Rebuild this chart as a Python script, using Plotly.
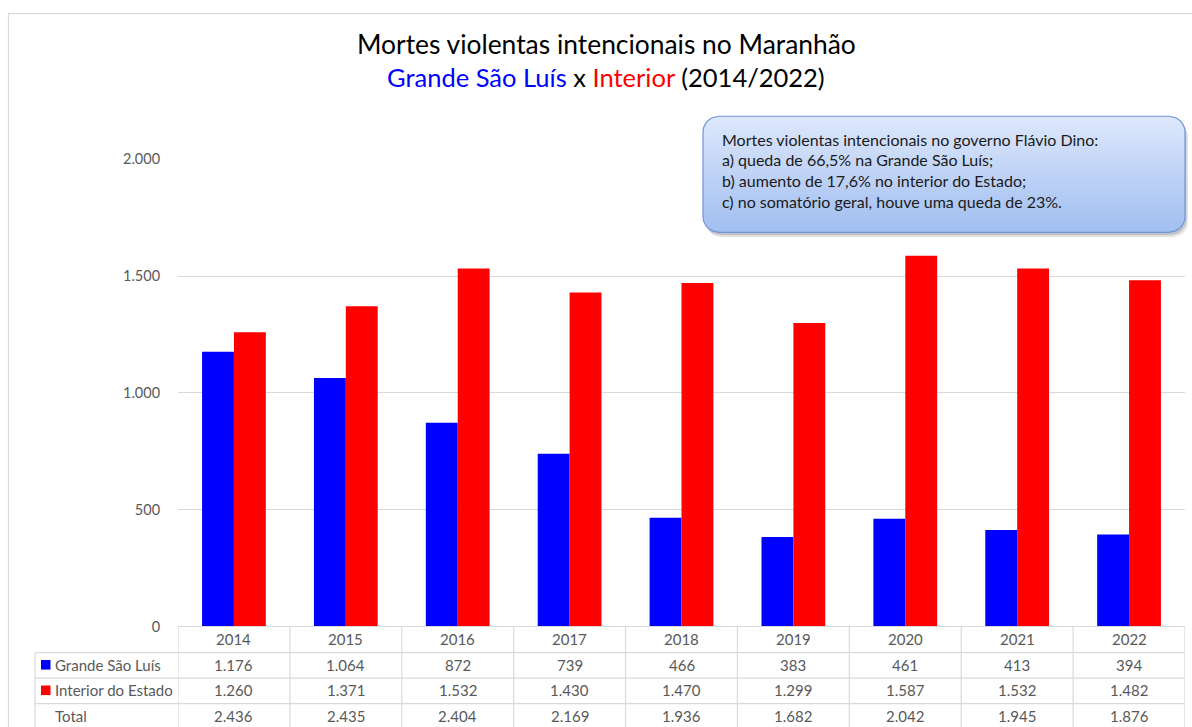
import numpy as np
import plotly.graph_objects as go

# ---------------- data ----------------
years = ["2014", "2015", "2016", "2017", "2018", "2019", "2020", "2021", "2022"]
grande_sao_luis = [1176, 1064, 872, 739, 466, 383, 461, 413, 394]
interior_estado = [1260, 1371, 1532, 1430, 1470, 1299, 1587, 1532, 1482]
total = [2436, 2435, 2404, 2169, 1936, 1682, 2042, 1945, 1876]
row_labels = ["Grande São Luís", "Interior do Estado", "Total"]
y_ticks = [0, 500, 1000, 1500, 2000]

title_line1 = "Mortes violentas intencionais no Maranhão"
title_line2 = ("<span style='color:#0000ff'>Grande São Luís</span> x "
               "<span style='color:#ff0000'>Interior</span> (2014/2022)")
note_lines = [
    "Mortes violentas intencionais no governo Flávio Dino:",
    "a) queda de 66,5% na Grande São Luís;",
    "b) aumento de 17,6% no interior do Estado;",
    "c) no somatório geral, houve uma queda de 23%.",
]

# ---------------- layout helpers ----------------
W, H = 1192, 736
FONT = "Lato"
GRID = "#d9d9d9"
TXT = "#595959"
BLUE = "#0000ff"
RED = "#ff0000"

# measured mapping of the capture: shown_y = V_OFF + V_SCALE * figure_y
V_OFF, V_SCALE = 8.8, 0.9764


def px(x):
    """target pixel x -> paper coordinate"""
    return x / W


def py(y):
    """target pixel y -> paper coordinate"""
    return 1 - ((y - V_OFF) / V_SCALE) / H


PLOT_L, PLOT_R, PLOT_T, PLOT_B = 178, 1185, 159, 626
ROW_H = 25.5


def fmt(v):
    return f"{v:,}".replace(",", ".")


fig = go.Figure()
fig.add_bar(x=years, y=grande_sao_luis, name=row_labels[0],
            marker=dict(color=BLUE, line=dict(width=0)))
fig.add_bar(x=years, y=interior_estado, name=row_labels[1],
            marker=dict(color=RED, line=dict(width=0)))

shapes = []
annotations = []

# outer chart border
shapes.append(dict(type="rect", xref="paper", yref="paper",
                   x0=px(8.5), x1=px(1250), y0=py(13.5), y1=-0.2,
                   line=dict(color=GRID, width=1.2), fillcolor="rgba(0,0,0,0)",
                   layer="below"))

# ---------------- data table below the plot ----------------
n = len(years)
shapes.append(dict(type="line", xref="x", yref="paper", x0=-0.5, x1=n - 0.5,
                   y0=py(PLOT_B), y1=py(PLOT_B), line=dict(color=GRID, width=1.2)))
for k in range(1, 4):
    yy = PLOT_B + k * ROW_H + 0.5
    shapes.append(dict(type="line", xref="paper", yref="paper",
                       x0=px(35), x1=px(PLOT_R), y0=py(yy), y1=py(yy),
                       line=dict(color=GRID, width=1.2)))
for k in range(n + 1):
    shapes.append(dict(type="line", xref="x", yref="paper", x0=k - 0.5, x1=k - 0.5,
                       y0=py(PLOT_B), y1=-0.1, line=dict(color=GRID, width=1.2)))
shapes.append(dict(type="line", xref="paper", yref="paper", x0=px(35), x1=px(35),
                   y0=py(PLOT_B + ROW_H + 0.5), y1=-0.1,
                   line=dict(color=GRID, width=1.2)))

row_center = [PLOT_B + ROW_H * (i + 0.5) for i in range(4)]
for i, yr in enumerate(years):
    annotations.append(dict(x=i, y=py(row_center[0]), xref="x", yref="paper",
                            yanchor="middle", xanchor="center",
                            text=yr, showarrow=False,
                            font=dict(family=FONT, size=15, color=TXT)))
    for r, series in enumerate([grande_sao_luis, interior_estado, total]):
        annotations.append(dict(x=i, y=py(row_center[r + 1]), xref="x", yref="paper",
                                yanchor="middle", xanchor="center",
                                text=fmt(series[i]), showarrow=False,
                                font=dict(family=FONT, size=15, color=TXT)))

for r, lab in enumerate(row_labels):
    yc = row_center[r + 1]
    annotations.append(dict(x=px(53), y=py(yc), xref="paper", yref="paper",
                            xanchor="left", yanchor="middle", text=lab, showarrow=False,
                            font=dict(family=FONT, size=15, color=TXT)))
    if r < 2:
        shapes.append(dict(type="rect", xref="paper", yref="paper",
                           x0=px(41), x1=px(50.5), y0=py(yc - 4.8), y1=py(yc + 4.8),
                           fillcolor=[BLUE, RED][r], line=dict(width=0)))

# ---------------- title ----------------
annotations.append(dict(x=px(606), y=py(44), xref="paper", yref="paper",
                        xanchor="center", yanchor="middle",
                        text=title_line1, showarrow=False,
                        font=dict(family=FONT, size=26.4, color="#000000")))
annotations.append(dict(x=px(606), y=py(77), xref="paper", yref="paper",
                        xanchor="center", yanchor="middle",
                        text=title_line2, showarrow=False,
                        font=dict(family=FONT, size=25.5, color="#000000")))

# ---------------- callout box with vertical gradient ----------------
BX0, BX1, BY0, BY1, RAD = 703, 1185, 116, 232, 16


def edge_x(y):
    """horizontal inset of the rounded rectangle at pixel height y"""
    if y < BY0 + RAD:
        d = BY0 + RAD - y
    elif y > BY1 - RAD:
        d = y - (BY1 - RAD)
    else:
        return 0.0
    d = min(d, RAD)
    return RAD - np.sqrt(max(RAD * RAD - d * d, 0.0))


def band_path(ya, yb, dx=0, dy=0, npts=8):
    ys = np.linspace(ya, yb, npts)
    left = [(BX0 + edge_x(y) + dx, y + dy) for y in ys]
    right = [(BX1 - edge_x(y) + dx, y + dy) for y in ys[::-1]]
    pts = left + right
    return "M " + " L ".join(f"{px(a):.6f},{py(b):.6f}" for a, b in pts) + " Z"


def rr_path(dx=0, dy=0):
    return band_path(BY0, BY1, dx, dy, npts=80)


# shadow
shapes.append(dict(type="path", xref="paper", yref="paper", path=rr_path(3, 5),
                   fillcolor="rgba(0,0,0,0.10)", line=dict(width=0)))
shapes.append(dict(type="path", xref="paper", yref="paper", path=rr_path(1.5, 3),
                   fillcolor="rgba(0,0,0,0.15)", line=dict(width=0)))

top_c = np.array([222, 232, 252])
bot_c = np.array([160, 190, 240])
NB = 40
edges = np.linspace(BY0, BY1, NB + 1)
for b in range(NB):
    t = (b + 0.5) / NB
    c = (top_c * (1 - t) + bot_c * t).round().astype(int)
    yb = min(edges[b + 1] + 0.7, BY1)
    shapes.append(dict(type="path", xref="paper", yref="paper",
                       path=band_path(edges[b], yb),
                       fillcolor=f"rgb({c[0]},{c[1]},{c[2]})", line=dict(width=0)))
shapes.append(dict(type="path", xref="paper", yref="paper", path=rr_path(),
                   fillcolor="rgba(0,0,0,0)", line=dict(color="#6f96d6", width=1.2)))

for i, line in enumerate(note_lines):
    annotations.append(dict(x=px(720), y=py(139 + 20.7 * i), xref="paper", yref="paper",
                            xanchor="left", yanchor="middle", text=line, showarrow=False,
                            font=dict(family=FONT, size=16, color="#1a1a1a")))

fig.update_layout(
    width=W, height=H,
    margin=dict(l=0, r=0, t=0, b=0),
    paper_bgcolor="white", plot_bgcolor="white",
    barmode="group", bargap=0.43, bargroupgap=0,
    showlegend=False,
    separators=",.",
    xaxis=dict(type="category", domain=[px(PLOT_L), px(PLOT_R)],
               range=[-0.5, n - 0.5],
               showticklabels=False, showgrid=False, zeroline=False,
               showline=False, ticks=""),
    yaxis=dict(domain=[py(PLOT_B), py(PLOT_T)], range=[0, 2000],
               tickvals=y_ticks, tickformat=",d", showgrid=True, gridcolor=GRID,
               gridwidth=1.2, zeroline=False, showline=False,
               ticks="outside", ticklen=14, tickcolor="rgba(0,0,0,0)",
               tickfont=dict(family=FONT, size=14.5, color=TXT)),
    shapes=shapes,
    annotations=annotations,
)

# pin the figure to the window's top-left corner so the page never overflows
pin_js = (
    "var gd = document.getElementById('{plot_id}');"
    "document.documentElement.style.margin='0';"
    "document.body.style.margin='0';"
    "document.documentElement.style.overflow='hidden';"
    "document.body.style.overflow='hidden';"
    "gd.style.position='fixed'; gd.style.top='0px'; gd.style.left='0px';"
)
fig.write_html("out.html", config={"displayModeBar": False}, post_script=pin_js)
